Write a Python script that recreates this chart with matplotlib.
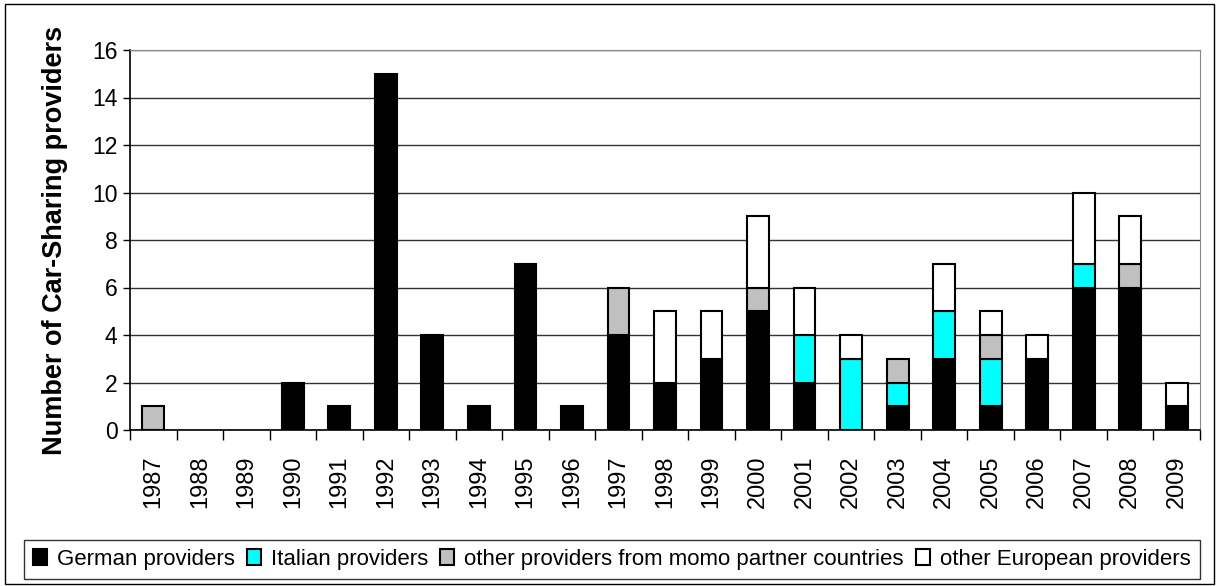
import matplotlib
matplotlib.use("Agg")
import matplotlib.pyplot as plt
from matplotlib.patches import Rectangle
import numpy as np

years = [str(y) for y in range(1987, 2010)]
german   = [0, 0, 0, 2, 1, 15, 4, 1, 7, 1, 4, 2, 3, 5, 2, 0, 1, 3, 1, 3, 6, 6, 1]
italian  = [0, 0, 0, 0, 0, 0, 0, 0, 0, 0, 0, 0, 0, 0, 2, 3, 1, 2, 2, 0, 1, 0, 0]
partner  = [1, 0, 0, 0, 0, 0, 0, 0, 0, 0, 2, 0, 0, 1, 0, 0, 1, 0, 1, 0, 0, 1, 0]
european = [0, 0, 0, 0, 0, 0, 0, 0, 0, 0, 0, 3, 2, 3, 2, 1, 0, 2, 1, 1, 3, 2, 1]

series = [
    ("German providers", german, "#000000"),
    ("Italian providers", italian, "#00ffff"),
    ("other providers from momo partner countries", partner, "#c0c0c0"),
    ("other European providers", european, "#ffffff"),
]

plt.rcParams['font.family'] = ['Liberation Sans', 'DejaVu Sans']
fig = plt.figure(figsize=(12.19, 5.86), dpi=100)
ax = fig.add_axes([130/1219, 1-430/586, (1200-130)/1219, (430-50)/586])

x = np.arange(len(years))
bottom = np.zeros(len(years))
handles = []
for name, vals, col in series:
    v = np.array(vals, dtype=float)
    mask = v > 0
    b = ax.bar(x[mask], v[mask], bottom=bottom[mask], width=0.47, color=col,
               edgecolor="black", linewidth=1.5, label=name, zorder=3)
    handles.append(b)
    bottom += v

ax.set_xlim(-0.5, len(years) - 0.5)
ax.set_ylim(0, 16)
ax.set_yticks(range(0, 17, 2))
ax.tick_params(axis='y', labelsize=16.5, length=5, width=1, direction='out', pad=4)
ax.set_xticks(x)
ax.set_xticklabels(years, rotation=90, fontsize=17)
ax.tick_params(axis='x', length=0, pad=18)
ax.set_xticks(np.arange(-0.5, len(years), 1), minor=True)
ax.tick_params(axis='x', which='minor', length=7, width=1, direction='out')
ax.grid(axis='y', color='#333333', linewidth=1, zorder=0)
for s in ['top', 'right']:
    ax.spines[s].set_color('#888888')
for s in ['left', 'bottom']:
    ax.spines[s].set_color('#000000')
    ax.spines[s].set_linewidth(1.2)
ax.set_ylabel("Number of Car-Sharing providers", fontsize=19.5, fontweight='bold', labelpad=17)

leg = fig.legend(handles=handles, loc='center', bbox_to_anchor=(612/1219, 1-559.5/586),
                 ncol=4, fontsize=16, frameon=True, fancybox=False, edgecolor='black',
                 handlelength=0.63, handleheight=0.72, handletextpad=0.45, columnspacing=0.54,
                 borderpad=0.4, borderaxespad=0)
leg.get_frame().set_linewidth(1.0)

fig.patches.append(Rectangle((5/1219, 2/586), 1209/1219, 580/586, transform=fig.transFigure,
                             fill=False, edgecolor='black', linewidth=1.0))

fig.savefig("out.png", dpi=100)
